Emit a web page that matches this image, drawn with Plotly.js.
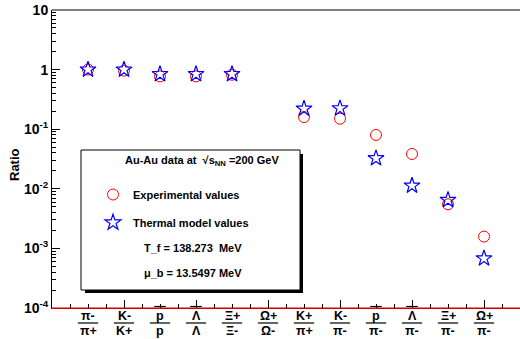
<!DOCTYPE html>
<html><head><meta charset="utf-8">
<script src="https://cdn.plot.ly/plotly-3.0.1.min.js"></script>
<style>html,body{margin:0;padding:0;background:#fff}#plot{width:520px;height:339px}</style>
</head><body><div id="plot"></div>
<script>
// category positions 1..12
const positions = [1,2,3,4,5,6,7,8,9,10,11,12];
const numerators   = ["π-","K-","p","Λ","Ξ+","Ω+","K+","K-","p","Λ","Ξ+","Ω+"];
const denominators = ["π+","K+","p","Λ","Ξ-","Ω-","π+","π-","π-","π-","π-","π-"];
const numOverline  = [false,false,true,true,false,false,false,false,true,true,false,false];
const experimental = [1.0, 0.96, 0.77, 0.77, 0.82, null, 0.160, 0.150, 0.080, 0.0384, 0.0055, 0.00158];
const thermal      = [1.0, 1.0, 0.84, 0.84, 0.84, null, 0.221, 0.224, 0.0325, 0.0113, 0.0065, 0.00068];
const yTickVals = [1e-4,1e-3,1e-2,1e-1,1,10];
const yTickText = ["10<sup>-4</sup>","10<sup>-3</sup>","10<sup>-2</sup>","10<sup>-1</sup>","1","10"];
const legendHeader = "Au-Au data at  √s<sub>NN</sub> =200 GeV";
const infoLines = ["T_f = 138.273  MeV","μ_b = 13.5497 MeV"];

const W=520,H=339,L=52,R=0,T=10,B=31;
const pw=W-L-R, ph=H-T-B;
const px=x=>(x-L)/pw, py=y=>(H-B-y)/ph;
const FONT="Liberation Sans, Arial, sans-serif";

const traces=[
 {x:positions,y:experimental,type:'scatter',mode:'markers',name:'Experimental values',legendgroup:'a',
  marker:{symbol:'circle-open',size:11,color:'#ff0000',line:{width:1,color:'#ff0000'}}},
 {x:positions,y:thermal,type:'scatter',mode:'markers',name:'Thermal model values',legendgroup:'b',
  marker:{symbol:'star-open',size:12,color:'#0000ff',line:{width:1.2,color:'#0000ff'}}}
];

const shapes=[
 {type:'rect',xref:'paper',yref:'paper',x0:px(85),x1:px(303),y0:py(293),y1:py(154),fillcolor:'#000',line:{width:0},layer:'above'},
 {type:'rect',xref:'paper',yref:'paper',x0:px(81),x1:px(300),y0:py(290),y1:py(150),fillcolor:'#fff',line:{width:1,color:'#000'},layer:'above'},
 {type:'line',xref:'paper',yref:'paper',x0:0,x1:1,y0:1,y1:1,line:{width:1,color:'#000'}},
 {type:'line',xref:'paper',yref:'paper',x0:0,x1:1,y0:0,y1:0,line:{width:1,color:'#cc0000'},layer:'above'}
];
const annotations=[];
positions.forEach((p,i)=>{
  shapes.push({type:'line',xref:'x',yref:'paper',x0:p-0.28,x1:p+0.28,y0:py(323),y1:py(323),line:{width:1.2,color:'#000'}});
  if(numOverline[i]) shapes.push({type:'line',xref:'x',yref:'paper',x0:p-0.16,x1:p+0.16,y0:py(306.5),y1:py(306.5),line:{width:1.2,color:'#000'}});
  annotations.push({x:p,xref:'x',yref:'paper',y:py(315.5),text:'<b>'+numerators[i]+'</b>',showarrow:false,font:{family:FONT,size:12.5,color:'#000'},yanchor:'middle'});
  annotations.push({x:p,xref:'x',yref:'paper',y:py(331),text:'<b>'+denominators[i]+'</b>',showarrow:false,font:{family:FONT,size:12.5,color:'#000'},yanchor:'middle'});
});
annotations.push({xref:'paper',yref:'paper',x:px(202),y:py(161),text:'<b>'+legendHeader+'</b>',showarrow:false,font:{family:FONT,size:11,color:'#000'},xanchor:'center',yanchor:'middle'});
annotations.push({xref:'paper',yref:'paper',x:px(193),y:py(248),text:'<b>'+infoLines[0]+'</b>',showarrow:false,font:{family:FONT,size:11,color:'#000'},xanchor:'center',yanchor:'middle'});
annotations.push({xref:'paper',yref:'paper',x:px(193),y:py(273),text:'<b>'+infoLines[1]+'</b>',showarrow:false,font:{family:FONT,size:11,color:'#000'},xanchor:'center',yanchor:'middle'});
annotations.push({xref:'paper',yref:'paper',x:px(14),y:py(165),text:'<b>Ratio</b>',textangle:-90,showarrow:false,font:{family:FONT,size:13,color:'#000'},xanchor:'center',yanchor:'middle'});

const layout={
 width:W,height:H,margin:{l:L,r:R,t:T,b:B},
 paper_bgcolor:'#fff',plot_bgcolor:'#fff',
 font:{family:FONT,color:'#000'},
 showlegend:true,
 legend:{x:px(93),y:py(180),xanchor:'left',yanchor:'top',bgcolor:'rgba(0,0,0,0)',borderwidth:0,
   font:{family:FONT,size:11,color:'#000',weight:'bold'},tracegroupgap:9},
 xaxis:{range:[0,13],showgrid:false,zeroline:false,showline:true,linecolor:'#cc0000',linewidth:1,
   ticks:'inside',tick0:0,dtick:2,ticklen:8,tickcolor:'#000',showticklabels:false,
   minor:{ticks:'inside',dtick:0.5,tick0:0,ticklen:4,tickcolor:'#000',showgrid:false}},
 yaxis:{type:'log',range:[-4,1],showgrid:false,zeroline:false,showline:true,linecolor:'#000',linewidth:1,
   ticks:'inside',ticklen:8,tickcolor:'#000',tickvals:yTickVals,ticktext:yTickText,
   tickfont:{family:FONT,size:14,color:'#000',weight:'bold'},
   minor:{ticks:'inside',dtick:'D1',ticklen:4,tickcolor:'#000',showgrid:false}},
 shapes:shapes,annotations:annotations
};
Plotly.newPlot('plot',traces,layout,{staticPlot:true});
</script></body></html>
